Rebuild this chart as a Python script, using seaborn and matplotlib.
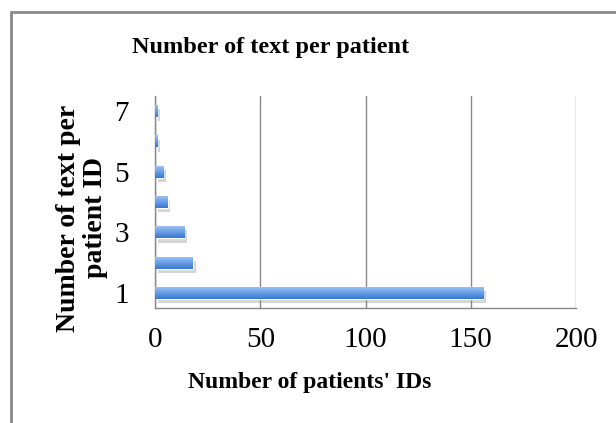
import numpy as np
import pandas as pd
import seaborn as sns
import matplotlib.pyplot as plt
import matplotlib.patheffects as pe
from matplotlib.colors import LinearSegmentedColormap
from matplotlib.lines import Line2D

texts_per_id = ['1', '2', '3', '4', '5', '6', '7']
patient_ids = [156, 18, 14, 6, 4, 1, 1]
x_ticks = [0, 50, 100, 150, 200]
y_labels_shown = ['1', '3', '5', '7']


def main():
    sns.set_style('white')
    plt.rcParams['font.family'] = ['Liberation Serif', 'DejaVu Serif']
    plt.rcParams['text.color'] = 'black'
    plt.rcParams['xtick.labelcolor'] = 'black'
    plt.rcParams['ytick.labelcolor'] = 'black'
    plt.rcParams['axes.labelcolor'] = 'black'

    df = pd.DataFrame({'texts': texts_per_id, 'ids': patient_ids})

    fig = plt.figure(figsize=(6.16, 4.23), dpi=100)
    ax = fig.add_axes([155 / 616, 1 - 308 / 423, 421 / 616, 212 / 423])

    order = texts_per_id[::-1]
    sns.barplot(data=df, x='ids', y='texts', order=order, orient='h',
                color='#5b93e3', width=0.4, ax=ax, saturation=1)

    # gradient fill on each bar, light on top, darker below, with a soft shadow
    cmap = LinearSegmentedColormap.from_list('bar', ['#a3c6f4', '#6a9fe8', '#3a76d0'])
    grad = np.linspace(0, 1, 64).reshape(-1, 1)
    yl = ax.get_ylim()
    for p in list(ax.patches):
        p.set_path_effects([pe.SimplePatchShadow(offset=(2, -3), shadow_rgbFace='#888888',
                                                 alpha=0.35), pe.Normal()])
        x0, y0 = p.get_x(), p.get_y()
        w, h = p.get_width(), p.get_height()
        im = ax.imshow(grad, cmap=cmap, aspect='auto', origin='upper',
                       extent=[x0, x0 + w, y0 + h, y0], zorder=3)
        im.set_clip_path(p)
    ax.set_xlim(0, 200)
    ax.set_ylim(yl)

    ax.set_xticks(x_ticks)
    ax.xaxis.grid(True, color='#888888', linewidth=1)
    ax.set_axisbelow(True)
    ax.tick_params(axis='x', direction='out', length=6, width=1, color='#888888',
                   labelsize=21, pad=8)

    ax.set_yticks(range(len(order)))
    ax.set_yticklabels([t if t in y_labels_shown else '' for t in order])
    ax.set_yticks(np.arange(-0.5, len(order), 1), minor=True)
    ax.tick_params(axis='y', which='major', length=0, labelsize=21, pad=19)
    ax.tick_params(axis='y', which='minor', direction='out', length=6, width=1,
                   color='#888888')

    for s in ['top', 'right']:
        ax.spines[s].set_visible(False)
    for s in ['left', 'bottom']:
        ax.spines[s].set_color('#888888')
        ax.spines[s].set_linewidth(1)

    ax.set_xlabel("Number of patients' IDs", fontsize=17, fontweight='bold')
    ax.xaxis.set_label_coords(0.368, -0.30)
    ax.set_ylabel('Number of text per\npatient ID', fontsize=20, fontweight='bold',
                  linespacing=1.12)
    ax.yaxis.set_label_coords(-0.112, 0.425)
    fig.text(271 / 616, 1 - 48 / 423, 'Number of text per patient', fontsize=17.5,
             fontweight='bold', ha='center', va='center')

    # chart frame (top and left edges visible)
    fig.add_artist(Line2D([11 / 616, 1], [1 - 12 / 423] * 2, color='#8a8a8a', linewidth=2))
    fig.add_artist(Line2D([11 / 616] * 2, [0, 1 - 12 / 423], color='#8a8a8a', linewidth=2))

    fig.savefig('out.png', dpi=100)


if __name__ == '__main__':
    main()
